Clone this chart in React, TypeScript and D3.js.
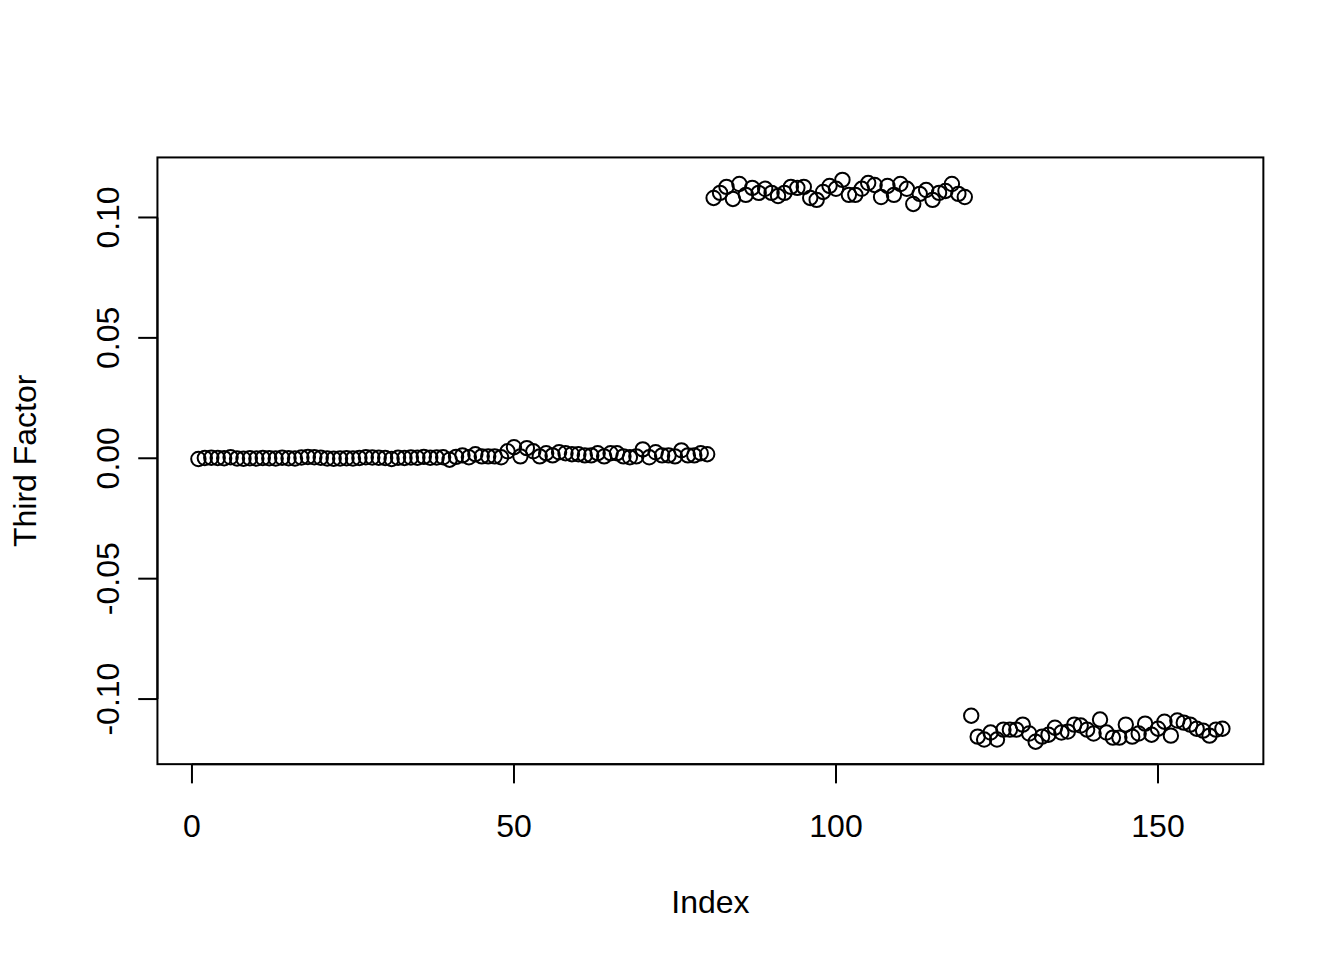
import React from "react";
import * as d3 from "d3";

// values, in index order (1..160)
const groupA: number[] = [
  -0.0003, 0.0001, 0.0002, 0.0001, 0.0, 0.0004, -0.0001, -0.0002, 0.0, -0.0001,
  0.0001, 0.0, -0.0001, 0.0002, 0.0, -0.0001, 0.0003, 0.0005, 0.0004, 0.0002,
  -0.0001, -0.0002, -0.0001, 0.0, -0.0001, 0.0001, 0.0004, 0.0003, 0.0002, 0.0001,
  -0.0003, 0.0002, 0.0001, 0.0003, 0.0002, 0.0006, 0.0002, 0.0003, 0.0004, -0.0006,
  0.0006, 0.0012, 0.0004, 0.0017, 0.0008, 0.0008, 0.0008, 0.0004, 0.0029, 0.0046,
  0.0008, 0.0042, 0.0029, 0.0008, 0.0021, 0.0012, 0.0025, 0.0021, 0.0017, 0.0017,
  0.0012, 0.0012, 0.0021, 0.0008, 0.0021, 0.0021, 0.0008, 0.0004, 0.0008, 0.0037,
  0.0004, 0.0025, 0.0012, 0.0012, 0.0008, 0.0033, 0.0012, 0.0012, 0.0021, 0.0017,
];

const groupB: number[] = [
  0.1081, 0.1102, 0.1127, 0.1077, 0.1139, 0.1094, 0.1123, 0.1102, 0.1119, 0.1102,
  0.1089, 0.1102, 0.1127, 0.1123, 0.1127, 0.1081, 0.1073, 0.1106, 0.1131, 0.1119,
  0.1156, 0.1094, 0.1094, 0.1119, 0.1143, 0.1135, 0.1085, 0.1131, 0.1094, 0.1139,
  0.1119, 0.1056, 0.1098, 0.1114, 0.1073, 0.1102, 0.111, 0.1139, 0.1098, 0.1085,
];

const groupC: number[] = [
  -0.1069, -0.1156, -0.1168, -0.1139, -0.1168, -0.1127, -0.1127, -0.1127, -0.1106, -0.1143,
  -0.1177, -0.1156, -0.1148, -0.1119, -0.1139, -0.1135, -0.1106, -0.111, -0.1127, -0.1143,
  -0.1085, -0.1139, -0.116, -0.116, -0.1106, -0.1156, -0.1143, -0.1102, -0.1148, -0.1123,
  -0.1094, -0.1152, -0.1089, -0.1098, -0.1106, -0.1123, -0.1131, -0.1152, -0.1127, -0.1123,
];

const xTicks = [0, 50, 100, 150];
const yTicks = [-0.1, -0.05, 0, 0.05, 0.1];

const W = 1344;
const H = 960;
const LINE = 38.4; // one margin line at 192 dpi
const margin = { top: 4.1 * LINE, right: 2.1 * LINE, bottom: 5.1 * LINE, left: 4.1 * LINE };
const font = "'Liberation Sans', Arial, Helvetica, sans-serif";

export default function App() {
  const values = [...groupA, ...groupB, ...groupC];
  const pts = values.map((v, i) => ({ idx: i + 1, v }));

  const left = margin.left;
  const right = W - margin.right;
  const top = margin.top;
  const bottom = H - margin.bottom;

  // R style 4% padding on both axes
  const pad = (lo: number, hi: number) => {
    const d = (hi - lo) * 0.04;
    return [lo - d, hi + d];
  };
  const [ylo, yhi] = d3.extent(values) as [number, number];

  const x = d3.scaleLinear().domain(pad(1, values.length)).range([left, right]);
  const y = d3.scaleLinear().domain(pad(ylo, yhi)).range([bottom, top]);

  const tickLen = 0.5 * LINE;

  return (
    <svg
      width={W}
      height={H}
      style={{ position: "absolute", left: 0, top: 0, background: "#fff" }}
      fontFamily={font}
    >
      <rect x={0} y={0} width={W} height={H} fill="#fff" />
      {/* box */}
      <rect x={left} y={top} width={right - left} height={bottom - top} fill="none" stroke="#000" strokeWidth={2} />

      {/* x axis */}
      <g>
        <line x1={x(xTicks[0])} x2={x(xTicks[xTicks.length - 1])} y1={bottom} y2={bottom} stroke="#000" strokeWidth={2} />
        {xTicks.map((t) => (
          <g key={t}>
            <line x1={x(t)} x2={x(t)} y1={bottom} y2={bottom + tickLen} stroke="#000" strokeWidth={2} />
            <text x={x(t)} y={bottom + LINE + 34} textAnchor="middle" fontSize={32}>
              {t}
            </text>
          </g>
        ))}
        <text x={(left + right) / 2} y={bottom + 3 * LINE + 34} textAnchor="middle" fontSize={32}>
          Index
        </text>
      </g>

      {/* y axis */}
      <g>
        <line x1={left} x2={left} y1={y(yTicks[0])} y2={y(yTicks[yTicks.length - 1])} stroke="#000" strokeWidth={2} />
        {yTicks.map((t) => (
          <g key={t}>
            <line x1={left} x2={left - tickLen} y1={y(t)} y2={y(t)} stroke="#000" strokeWidth={2} />
            <text
              transform={`translate(${left - LINE},${y(t)}) rotate(-90)`}
              textAnchor="middle"
              fontSize={32}
            >
              {t.toFixed(2)}
            </text>
          </g>
        ))}
        <text
          transform={`translate(${left - 3 * LINE - 6},${(top + bottom) / 2}) rotate(-90)`}
          textAnchor="middle"
          fontSize={32}
        >
          Third Factor
        </text>
      </g>

      {/* points */}
      <g fill="none" stroke="#000" strokeWidth={2}>
        {pts.map((p) => (
          <circle key={p.idx} cx={x(p.idx)} cy={y(p.v)} r={7.2} />
        ))}
      </g>
    </svg>
  );
}
